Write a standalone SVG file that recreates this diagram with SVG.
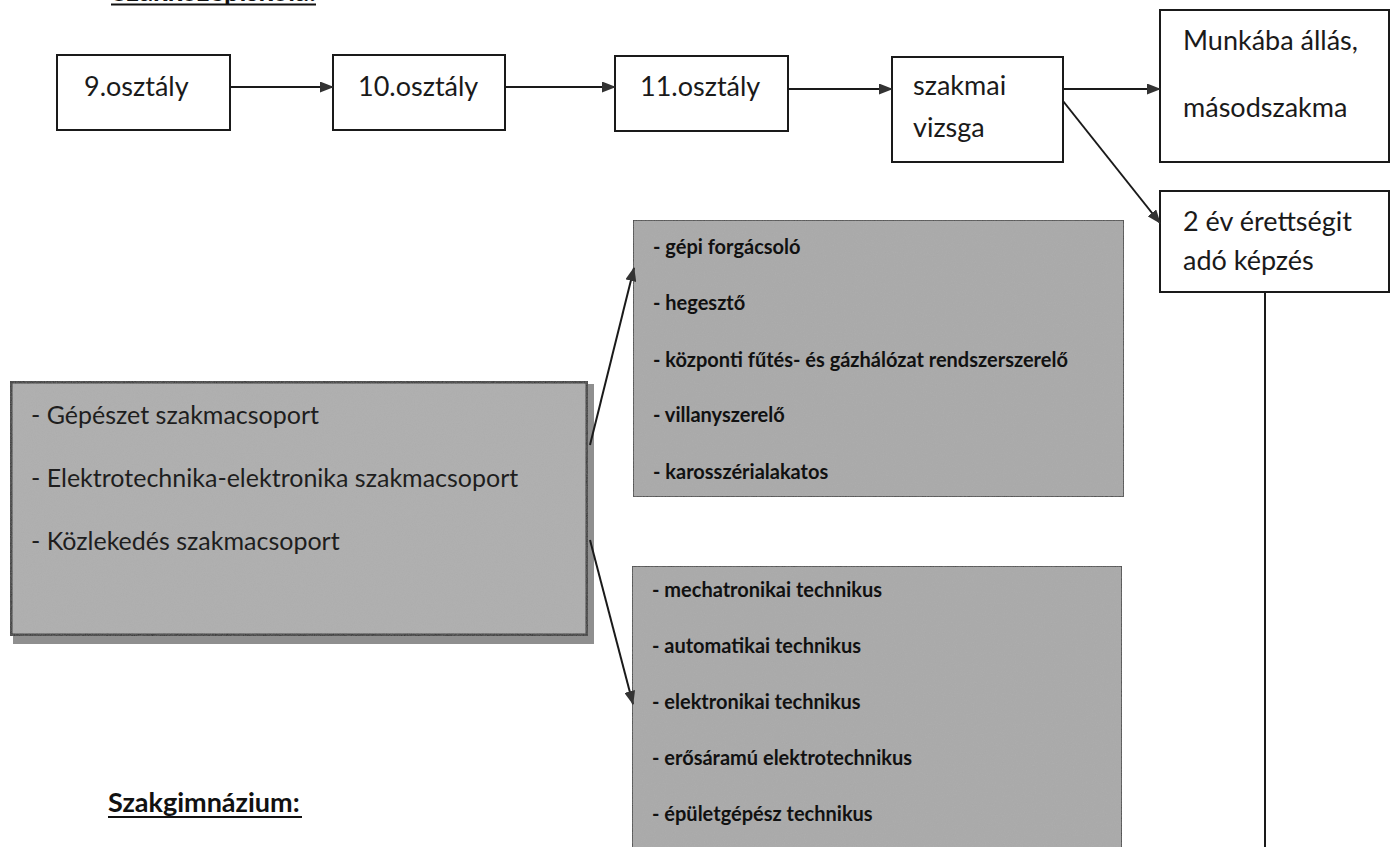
<svg xmlns="http://www.w3.org/2000/svg" width="1392" height="847" viewBox="0 0 1392 847">
<style>
.box{fill:#fff;stroke:#1a1a1a;stroke-width:2}
.gray{fill:#a8a8a8;stroke:#2a2a2a;stroke-width:1.5}
.t{font-family:"Lato","Open Sans","Liberation Sans",sans-serif;font-size:27px;fill:#1a1a1a}
.s{font-family:"Lato","Open Sans","Liberation Sans",sans-serif;font-size:20px;font-weight:bold;fill:#111}
.l{font-family:"Lato","Open Sans","Liberation Sans",sans-serif;font-size:25px;fill:#1e1e1e}
.h{font-family:"Lato","Open Sans","Liberation Sans",sans-serif;font-size:27px;font-weight:bold;fill:#111}
.c{stroke:#1a1a1a;stroke-width:2;fill:none}
</style>
<defs>
<marker id="ah" viewBox="0 0 14 11" refX="13" refY="5.5" markerWidth="14" markerHeight="11" markerUnits="userSpaceOnUse" orient="auto">
<path d="M0,0 L14,5.5 L0,11 Z" fill="#333"/>
</marker>
<filter id="noise" x="0" y="0" width="100%" height="100%">
<feTurbulence type="fractalNoise" baseFrequency="0.9" numOctaves="2" result="n"/>
<feColorMatrix in="n" type="matrix" values="0 0 0 0 0.5  0 0 0 0 0.5  0 0 0 0 0.5  0 0 0 0.25 0" result="m"/>
<feComposite in="m" in2="SourceGraphic" operator="in" result="c"/>
<feMerge><feMergeNode in="SourceGraphic"/><feMergeNode in="c"/></feMerge>
</filter>
</defs>
<rect width="1392" height="847" fill="#fff"/>

<g id="title-top">
<text class="h" x="112" y="1" textLength="204" lengthAdjust="spacingAndGlyphs">Szakközépiskola:</text>
<line x1="111" y1="4.5" x2="316" y2="4.5" stroke="#111" stroke-width="2"/>
</g>

<g id="n9">
<rect class="box" x="57" y="55" width="173" height="75"/>
<text class="t" x="84" y="96">9.osztály</text>
</g>
<g id="n10">
<rect class="box" x="333" y="55" width="172" height="75"/>
<text class="t" x="358" y="96">10.osztály</text>
</g>
<g id="n11">
<rect class="box" x="615" y="56" width="173" height="75"/>
<text class="t" x="640" y="96">11.osztály</text>
</g>
<g id="nvizsga">
<rect class="box" x="892" y="57" width="171" height="105"/>
<text class="t" x="913" y="95">szakmai</text>
<text class="t" x="913" y="137">vizsga</text>
</g>
<g id="nmunka">
<rect class="box" x="1160" y="10" width="229" height="152"/>
<text class="t" x="1183" y="50">Munkába állás,</text>
<text class="t" x="1183" y="117">másodszakma</text>
</g>
<g id="nerettsegi">
<rect class="box" x="1160" y="191" width="229" height="101"/>
<text class="t" x="1183" y="231">2 év érettségit</text>
<text class="t" x="1183" y="270">adó képzés</text>
</g>

<g id="ngroups">
<rect x="13" y="384" width="581" height="260" fill="#8f8f8f"/>
<rect x="10" y="381" width="578" height="255" fill="#adadad" stroke="#2e2e2e" stroke-width="5" filter="url(#noise)"/>
<text class="l" x="31" y="424">- Gépészet szakmacsoport</text>
<text class="l" x="31" y="487">- Elektrotechnika-elektronika szakmacsoport</text>
<text class="l" x="31" y="550">- Közlekedés szakmacsoport</text>
</g>

<g id="nszakmak">
<rect class="gray" x="633" y="220" width="491" height="277" filter="url(#noise)"/>
<text class="s" x="653" y="254">- gépi forgácsoló</text>
<text class="s" x="653" y="310">- hegesztő</text>
<text class="s" x="653" y="367">- központi fűtés- és gázhálózat rendszerszerelő</text>
<text class="s" x="653" y="422">- villanyszerelő</text>
<text class="s" x="653" y="479">- karosszérialakatos</text>
</g>

<g id="ntechnikus">
<rect class="gray" x="632" y="566" width="490" height="290" filter="url(#noise)"/>
<text class="s" x="652" y="597">- mechatronikai technikus</text>
<text class="s" x="652" y="653">- automatikai technikus</text>
<text class="s" x="652" y="709">- elektronikai technikus</text>
<text class="s" x="652" y="765">- erősáramú elektrotechnikus</text>
<text class="s" x="652" y="821">- épületgépész technikus</text>
</g>

<g id="title-bottom">
<text class="h" x="108" y="812">Szakgimnázium:</text>
<line x1="108" y1="817" x2="302" y2="817" stroke="#111" stroke-width="2"/>
</g>

<g id="connectors">
<line class="c" x1="230" y1="87" x2="333" y2="87" marker-end="url(#ah)"/>
<line class="c" x1="505" y1="87" x2="615" y2="87" marker-end="url(#ah)"/>
<line class="c" x1="788" y1="89" x2="892" y2="89" marker-end="url(#ah)"/>
<line class="c" x1="1063" y1="89" x2="1160" y2="89" marker-end="url(#ah)"/>
<line class="c" x1="1063" y1="101" x2="1160" y2="223" marker-end="url(#ah)"/>
<line class="c" x1="590" y1="445" x2="634" y2="268" marker-end="url(#ah)"/>
<line class="c" x1="590" y1="540" x2="633" y2="704" marker-end="url(#ah)"/>
<line class="c" x1="1265" y1="292" x2="1265" y2="847"/>
</g>
</svg>
